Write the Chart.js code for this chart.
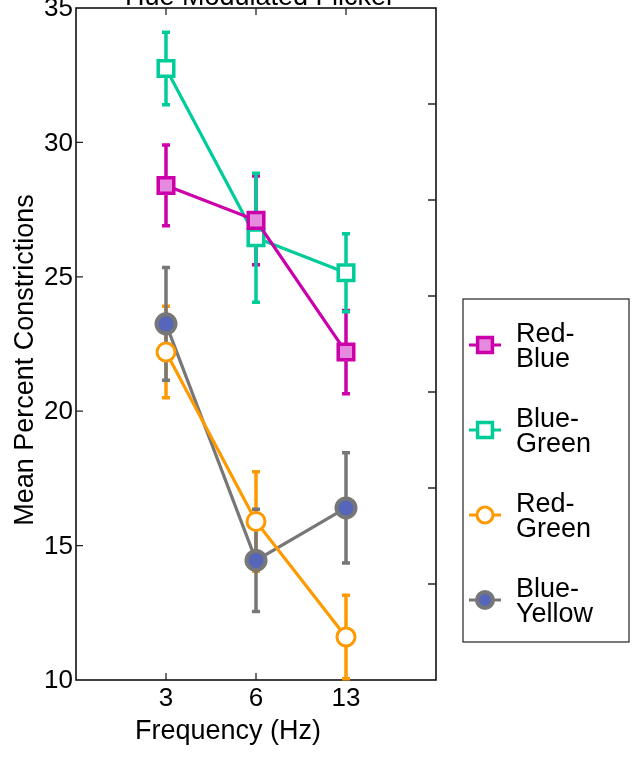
<!DOCTYPE html>
<html>
<head>
<meta charset="utf-8">
<script src="https://cdn.jsdelivr.net/npm/chart.js@4.4.1/dist/chart.umd.min.js"></script>
<style>
html, body { margin: 0; padding: 0; background: #fff; }
</style>
</head>
<body>
<canvas id="chart" width="637" height="762"></canvas>
<script>
// data
var freqLabels = ['3', '6', '13'];
var xPos = [1, 2, 3];
var yTicks = [10, 15, 20, 25, 30, 35];
var seriesNames = [['Red-', 'Blue'], ['Blue-', 'Green'], ['Red-', 'Green'], ['Blue-', 'Yellow']];

var redBlue = [28.4, 27.1, 22.2];
var redBlueErr = [1.5, 1.65, 1.55];
var blueGreen = [32.75, 26.45, 25.15];
var blueGreenErr = [1.35, 2.4, 1.45];
var redGreen = [22.2, 15.9, 11.6];
var redGreenErr = [1.7, 1.85, 1.55];
var blueYellow = [23.25, 14.45, 16.4];
var blueYellowErr = [2.1, 1.9, 2.05];

var FONT = '"Liberation Sans", Arial, Helvetica, sans-serif';

var styles = [
  { line: '#CC00AA', fill: '#E68AE0', shape: 'rect', r: 11, bw: 3.5 },
  { line: '#00CC99', fill: '#FFFFFF', shape: 'rect', r: 11, bw: 3.5 },
  { line: '#FF9900', fill: '#FFFFFF', shape: 'circle', r: 9, bw: 3 },
  { line: '#777777', fill: '#5566BB', shape: 'circle', r: 9.5, bw: 4 }
];
var means = [redBlue, blueGreen, redGreen, blueYellow];
var errs = [redBlueErr, blueGreenErr, redGreenErr, blueYellowErr];

function toPts(arr) {
  return arr.map(function (v, i) { return { x: xPos[i], y: v }; });
}

var datasets = means.map(function (m, i) {
  var s = styles[i];
  return {
    label: seriesNames[i].join(''),
    data: toPts(m),
    borderColor: s.line,
    backgroundColor: s.fill,
    borderWidth: 3.2,
    pointStyle: s.shape,
    pointRadius: s.r,
    pointHoverRadius: s.r,
    pointBorderWidth: s.bw,
    pointHoverBorderWidth: s.bw,
    pointBackgroundColor: s.fill,
    pointBorderColor: s.line,
    tension: 0
  };
});

function drawMarker(ctx, s, x, y) {
  ctx.fillStyle = s.fill;
  ctx.strokeStyle = s.line;
  ctx.lineWidth = s.bw;
  ctx.beginPath();
  if (s.shape == 'rect') {
    var h = s.r * Math.SQRT1_2;
    ctx.rect(x - h, y - h, 2 * h, 2 * h);
  } else {
    ctx.arc(x, y, s.r, 0, Math.PI * 2);
  }
  ctx.fill();
  ctx.stroke();
}

var framePlugin = {
  id: 'frame',
  beforeDatasetsDraw: function (chart) {
    var ctx = chart.ctx, a = chart.chartArea;
    var xs = chart.scales.x, ys = chart.scales.y, ys2 = chart.scales.y2;
    ctx.save();
    ctx.strokeStyle = '#000';
    ctx.lineWidth = 1.5;
    ctx.strokeRect(a.left, a.top, a.right - a.left, a.bottom - a.top);

    // inward tick marks
    ctx.lineWidth = 1.3;
    ctx.strokeStyle = '#222';
    ctx.beginPath();
    xPos.forEach(function (v) {
      var px = xs.getPixelForValue(v);
      ctx.moveTo(px, a.bottom); ctx.lineTo(px, a.bottom - 7);
      ctx.moveTo(px, a.top); ctx.lineTo(px, a.top + 7);
    });
    yTicks.slice(1, -1).forEach(function (v) {
      var py = ys.getPixelForValue(v);
      ctx.moveTo(a.left, py); ctx.lineTo(a.left + 7, py);
    });
    for (var k = 1; k < 7; k++) {
      var py2 = ys2.getPixelForValue(k);
      ctx.moveTo(a.right, py2); ctx.lineTo(a.right - 8, py2);
    }
    ctx.stroke();

    // y tick labels
    ctx.fillStyle = '#000';
    ctx.font = '26px ' + FONT;
    ctx.textAlign = 'right';
    ctx.textBaseline = 'middle';
    yTicks.forEach(function (v) {
      ctx.fillText(String(v), a.left - 3, ys.getPixelForValue(v) + 1);
    });

    // error bars
    ctx.lineWidth = 3.5;
    for (var i = 0; i < means.length; i++) {
      ctx.strokeStyle = styles[i].line;
      for (var j = 0; j < means[i].length; j++) {
        var px = xs.getPixelForValue(xPos[j]);
        var top = ys.getPixelForValue(means[i][j] + errs[i][j]);
        var bot = ys.getPixelForValue(means[i][j] - errs[i][j]);
        ctx.beginPath();
        ctx.moveTo(px, top); ctx.lineTo(px, bot);
        ctx.moveTo(px - 4, top); ctx.lineTo(px + 4, top);
        ctx.moveTo(px - 4, bot); ctx.lineTo(px + 4, bot);
        ctx.stroke();
      }
    }
    ctx.restore();
  },
  afterDraw: function (chart) {
    var ctx = chart.ctx, a = chart.chartArea;
    ctx.save();
    ctx.fillStyle = '#000';

    // title (cut off at the top, as in the figure)
    ctx.font = '27px ' + FONT;
    ctx.textAlign = 'center';
    ctx.textBaseline = 'alphabetic';
    ctx.fillText('Hue Modulated Flicker', 260, 5);

    // x axis title
    ctx.fillText('Frequency (Hz)', 228, 739);

    // y axis title
    ctx.save();
    ctx.translate(33, 360);
    ctx.rotate(-Math.PI / 2);
    ctx.fillText('Mean Percent Constrictions', 0, 0);
    ctx.restore();

    // legend
    var lx = a.right + 27, ly = 299, lw = 166, lh = 343;
    ctx.strokeStyle = '#222';
    ctx.lineWidth = 1.2;
    ctx.strokeRect(lx, ly, lw, lh);
    ctx.textAlign = 'left';
    for (var i = 0; i < seriesNames.length; i++) {
      var cy = 345 + 85 * i;
      var s = styles[i];
      ctx.strokeStyle = s.line;
      ctx.lineWidth = 3;
      ctx.beginPath();
      ctx.moveTo(lx + 6, cy); ctx.lineTo(lx + 38, cy);
      ctx.stroke();
      drawMarker(ctx, { line: s.line, fill: s.fill, shape: s.shape, r: s.shape == 'rect' ? 10.5 : 8, bw: s.bw }, lx + 22, cy);
      ctx.fillStyle = '#000';
      ctx.fillText(seriesNames[i][0], lx + 53, cy - 3);
      ctx.fillText(seriesNames[i][1], lx + 53, cy + 22);
    }
    ctx.restore();
  }
};

new Chart(document.getElementById('chart'), {
  type: 'line',
  data: { datasets: datasets },
  options: {
    responsive: false,
    animation: false,
    events: [],
    layout: { autoPadding: false, padding: { top: 8, left: 0, right: 0, bottom: 0 } },
    plugins: { legend: { display: false }, tooltip: { enabled: false }, title: { display: false } },
    scales: {
      x: {
        type: 'linear', min: 0, max: 4, position: 'bottom',
        afterFit: function (s) { s.height = 82; s.paddingLeft = 0; s.paddingRight = 0; },
        grid: { display: false, drawTicks: false },
        border: { display: false },
        ticks: {
          stepSize: 1, padding: 3, color: '#000', autoSkip: false, maxRotation: 0,
          font: { family: FONT, size: 26 },
          callback: function (v) { var i = xPos.indexOf(v); return i < 0 ? '' : freqLabels[i]; }
        }
      },
      y: {
        min: 10, max: 35, position: 'left',
        afterFit: function (s) { s.width = 76; s.paddingTop = 0; s.paddingBottom = 0; },
        grid: { display: false, drawTicks: false },
        border: { display: false },
        ticks: { display: false, stepSize: 5 }
      },
      y2: {
        min: 0, max: 7, position: 'right',
        afterFit: function (s) { s.width = 201; s.paddingTop = 0; s.paddingBottom = 0; },
        grid: { display: false, drawTicks: false },
        border: { display: false },
        ticks: { display: false, stepSize: 1 }
      }
    }
  },
  plugins: [framePlugin]
});
</script>
</body>
</html>
